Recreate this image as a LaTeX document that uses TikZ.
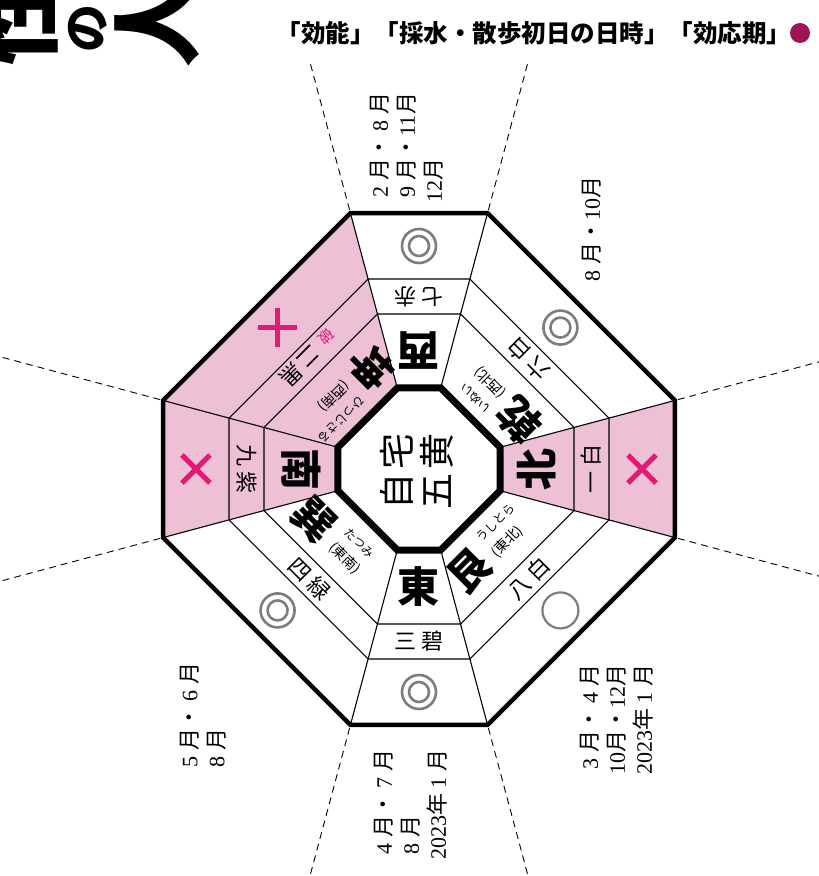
\documentclass[tikz,border=0pt]{standalone}
\usepackage{fontspec}
\setmainfont{Liberation Serif}
\newfontfamily\jp{Noto Sans CJK JP}
\definecolor{pinkcell}{RGB}{237,192,214}
\definecolor{badmark}{RGB}{226,28,118}
\definecolor{goodmark}{RGB}{125,125,125}
\definecolor{headdot}{RGB}{160,20,85}
\newcommand\tsuki{{\jp 月}}
\newcommand\nen{{\jp 年}}
\newcommand\nakaten{{\jp ・}}
\newcommand\kazu[1]{\makebox[1em]{#1}}
\tikzset{
  batsu/.pic={\draw[badmark, line width=5pt] (-14,-14) -- (14,14) (-14,14) -- (14,-14);},
  nijumaru/.pic={\draw[goodmark, line width=2.6pt] (0,0) circle (17) (0,0) circle (10);},
  maru/.pic={\draw[goodmark, line width=2.2pt] (0,0) circle (18);}
}
\begin{document}
\begin{tikzpicture}[x=1pt, y=1pt,
    thinline/.style={line width=1.1pt},
    bigchar/.style={font=\jp\bfseries\fontsize{42}{42}\selectfont, inner sep=0pt},
    ringtext/.style={font=\jp\fontsize{22}{22}\selectfont, inner sep=0pt},
    kananote/.style={font=\jp\fontsize{12}{22}\selectfont, align=left, inner sep=0pt, anchor=west},
    titlechar/.style={font=\jp\bfseries\fontsize{92}{92}\selectfont, inner sep=0pt, rotate=90},
    monthlabel/.style={font=\fontsize{22}{27}\selectfont, rotate=90, align=left, inner sep=0pt, anchor=west}]

    % Frame
    \clip (-419,-407) rectangle (400,469);
    \fill[white] (-419,-407) rectangle (400,469);

    % Title (cut by the page edge)
    \node[titlechar] (sei) at (-404,449) {性};
    \node[titlechar, font=\jp\bfseries\fontsize{48}{48}\selectfont] (no) at (-331,440) {の};
    \node[titlechar] (hito) at (-262,447) {人};

    % Header
    \node[font=\jp\bfseries\fontsize{24.5}{25}\selectfont, inner sep=0pt] (midashi) at (115,436) {「効能」「採水・散歩初日の日時」「効応期」};
    \fill[headdot] (381,436) circle (10);

    % Bad sectors
    \fill[pinkcell] (165:83.9) -- (165:265) -- (195:265) -- (195:83.9) -- cycle;
    \fill[pinkcell] (345:83.9) -- (345:265) -- (15:265) -- (15:83.9) -- cycle;
    \fill[pinkcell] (105:83.9) -- (105:265) -- (165:265) -- (165:83.9) -- cycle;

    % Rings and sector borders
    \foreach \r in {160.5,196.7}
        \draw[thinline] (15:\r) \foreach \a in {75,105,165,195,255,285,345} { -- (\a:\r) } -- cycle;
    \foreach \a in {15,75,105,165,195,255,285,345}
        \draw[thinline] (\a:83.9) -- (\a:265);

    % Dashed extensions
    \foreach \a/\len in {15/600,75/420,105/420,165/600,195/600,255/600,285/600,345/600}
        \draw[line width=0.9pt, dash pattern=on 7pt off 5pt] (\a:268) -- (\a:\len);

    % Outer and inner octagons
    \draw[line width=4.5pt, line join=miter] (15:265) \foreach \a in {75,105,165,195,255,285,345} { -- (\a:265) } -- cycle;
    \draw[line width=7pt, line join=miter] (15:83.9) \foreach \a in {75,105,165,195,255,285,345} { -- (\a:83.9) } -- cycle;

    % Centre
    \node[font=\jp\fontsize{36}{40}\selectfont, align=center, rotate=90, inner sep=0pt] (jitaku) at (-2,-2) {自\hspace{4pt}宅\\五\hspace{4pt}黄};

    % East
    \begin{scope}[rotate=0, transform shape]
        \node[bigchar] (higashi) at (0,-118) {東};
        \node[ringtext] (sanpeki) at (0,-172) {三\hspace{5pt}碧};
        \pic at (0,-223) {nijumaru};
    \end{scope}
    % North
    \begin{scope}[rotate=90, transform shape]
        \node[bigchar] (kita) at (0,-118) {北};
        \node[ringtext] (ippaku) at (0,-172) {一\hspace{5pt}白};
        \pic at (0,-223) {batsu};
    \end{scope}
    % West
    \begin{scope}[rotate=180, transform shape]
        \node[bigchar] (nishi) at (0,-118) {西};
        \node[ringtext] (shichiseki) at (0,-172) {七\hspace{5pt}赤};
        \pic at (0,-223) {nijumaru};
    \end{scope}
    % South
    \begin{scope}[rotate=270, transform shape]
        \node[bigchar] (minami) at (0,-118) {南};
        \node[ringtext] (kyushi) at (0,-172) {九\hspace{5pt}紫};
        \pic at (0,-223) {batsu};
    \end{scope}
    % North-east
    \begin{scope}[rotate=45, transform shape]
        \node[bigchar] (ushitora) at (-36,-108) {艮};
        \node[kananote] (ushitorayomi) at (-8,-104) {うしとら\\{\fontsize{14}{14}\selectfont(東北)}};
        \node[ringtext] (happaku) at (0,-155) {八\hspace{5pt}白};
        \pic at (0,-200) {maru};
    \end{scope}
    % North-west
    \begin{scope}[rotate=135, transform shape]
        \node[bigchar] (inui) at (-36,-106) {乾};
        \node[kananote] (inuiyomi) at (-8,-102) {いぬい\\{\fontsize{14}{14}\selectfont(西北)}};
        \node[ringtext] (roppaku) at (0,-155) {六\hspace{5pt}白};
        \pic at (0,-200) {nijumaru};
    \end{scope}
    % South-west
    \begin{scope}[rotate=225, transform shape]
        \node[bigchar] (hitsujisaru) at (-38,-106) {坤};
        \node[kananote] (hitsujisaruyomi) at (-10,-102) {ひつじさる\\{\fontsize{14}{14}\selectfont(西南)}};
        \node[ringtext] (jikoku) at (0,-157) {{\color{badmark}\fontsize{15}{15}\selectfont 破}\hspace{8pt}二\hspace{3pt}黒};
        \pic at (0,-200) {batsu};
    \end{scope}
    % South-east
    \begin{scope}[rotate=315, transform shape]
        \node[bigchar] (tatsumi) at (-38,-110) {巽};
        \node[kananote] (tatsumiyomi) at (-8,-106) {たつみ\\{\fontsize{14}{14}\selectfont(東南)}};
        \node[ringtext] (shiroku) at (0,-155) {四\hspace{5pt}緑};
        \pic at (0,-200) {nijumaru};
    \end{scope}

    % Dates
    \node[monthlabel] (dateW) at (-12,266) {\kazu{2}\tsuki\nakaten\kazu{8}\tsuki\\\kazu{9}\tsuki\nakaten\kazu{11}\tsuki\\\kazu{12}\tsuki};
    \node[monthlabel] (dateNW) at (173,182) {\kazu{8}\tsuki\nakaten\kazu{10}\tsuki};
    \node[monthlabel] (dateNE) at (198,-306) {\kazu{3}\tsuki\nakaten\kazu{4}\tsuki\\\kazu{10}\tsuki\nakaten\kazu{12}\tsuki\\2023\nen\kazu{1}\tsuki};
    \node[monthlabel] (dateE) at (-8,-391) {\kazu{4}\tsuki\nakaten\kazu{7}\tsuki\\\kazu{8}\tsuki\\2023\nen\kazu{1}\tsuki};
    \node[monthlabel] (dateSE) at (-216,-304) {\kazu{5}\tsuki\nakaten\kazu{6}\tsuki\\\kazu{8}\tsuki};
\end{tikzpicture}
\end{document}
